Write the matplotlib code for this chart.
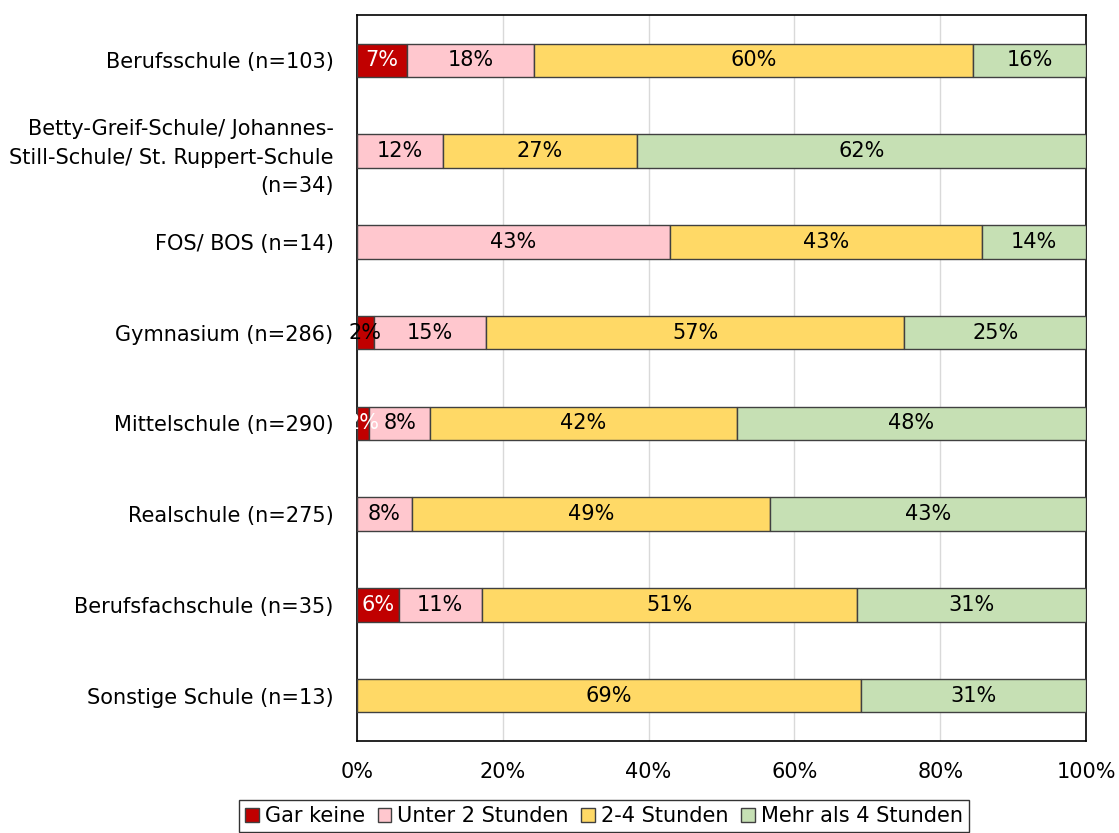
import matplotlib.pyplot as plt
import numpy as np

schools = ["Berufsschule (n=103)",
           "Betty-Greif-Schule/ Johannes-\nStill-Schule/ St. Ruppert-Schule\n(n=34)",
           "FOS/ BOS (n=14)",
           "Gymnasium (n=286)",
           "Mittelschule (n=290)",
           "Realschule (n=275)",
           "Berufsfachschule (n=35)",
           "Sonstige Schule (n=13)"]
series = ["Gar keine", "Unter 2 Stunden", "2-4 Stunden", "Mehr als 4 Stunden"]
gar_keine = [6.8, 0, 0, 2.3, 1.7, 0, 5.7, 0]
unter_2 = [17.5, 11.8, 42.9, 15.4, 8.3, 7.5, 11.4, 0]
zwei_vier = [60.2, 26.6, 42.9, 57.4, 42.1, 49.2, 51.45, 69.2]
mehr_4 = [15.5, 61.6, 14.2, 24.9, 47.9, 43.3, 31.45, 30.8]

colors = ["#C00000", "#FFC7CE", "#FFD966", "#C6E0B4"]
red_text = ["white", "black", "white", "black", "white", "black", "white", "black"]

plt.rcParams['font.family'] = ['DejaVu Sans']

fig = plt.figure(figsize=(11.19, 8.33), dpi=100)
ax = fig.add_axes([357 / 1119, 1 - 741 / 833, (1086 - 357) / 1119, (741 - 15) / 833])

y = np.arange(len(schools))
left = np.zeros(len(schools))
data = [gar_keine, unter_2, zwei_vier, mehr_4]
for k, vals in enumerate(data):
    vals = np.array(vals)
    ax.barh(y, vals, left=left, height=0.37, color=colors[k],
            edgecolor="#404040", linewidth=1.0, label=series[k], zorder=3)
    for i, v in enumerate(vals):
        if v > 0:
            tc = red_text[i] if k == 0 else "black"
            ax.text(left[i] + v / 2, y[i], "%d%%" % round(v), ha="center", va="center",
                    fontsize=15, color=tc, zorder=4)
    left += vals

ax.set_xlim(0, 100)
ax.set_ylim(len(schools) - 0.5, -0.5)
ax.set_yticks(y)
ax.set_yticklabels(schools, fontsize=15, linespacing=1.55)
ax.set_xticks(np.arange(0, 101, 20))
ax.set_xticklabels(["%d%%" % t for t in range(0, 101, 20)], fontsize=15)
ax.tick_params(length=0, pad=15, axis="x")
ax.tick_params(length=0, pad=17, axis="y")
ax.grid(axis="x", color="#D9D9D9", linewidth=1.0, zorder=0)
for s in ax.spines.values():
    s.set_color("black")
    s.set_linewidth(1.2)

leg = fig.legend(loc="center", bbox_to_anchor=(604 / 1119, 1 - 816 / 833), ncol=4,
                 fontsize=15, frameon=True, fancybox=False, edgecolor="black",
                 handlelength=0.65, handleheight=0.65, handletextpad=0.3,
                 columnspacing=0.6, borderpad=0.3)
leg.get_frame().set_linewidth(1.0)

fig.savefig("out.png", dpi=100)
